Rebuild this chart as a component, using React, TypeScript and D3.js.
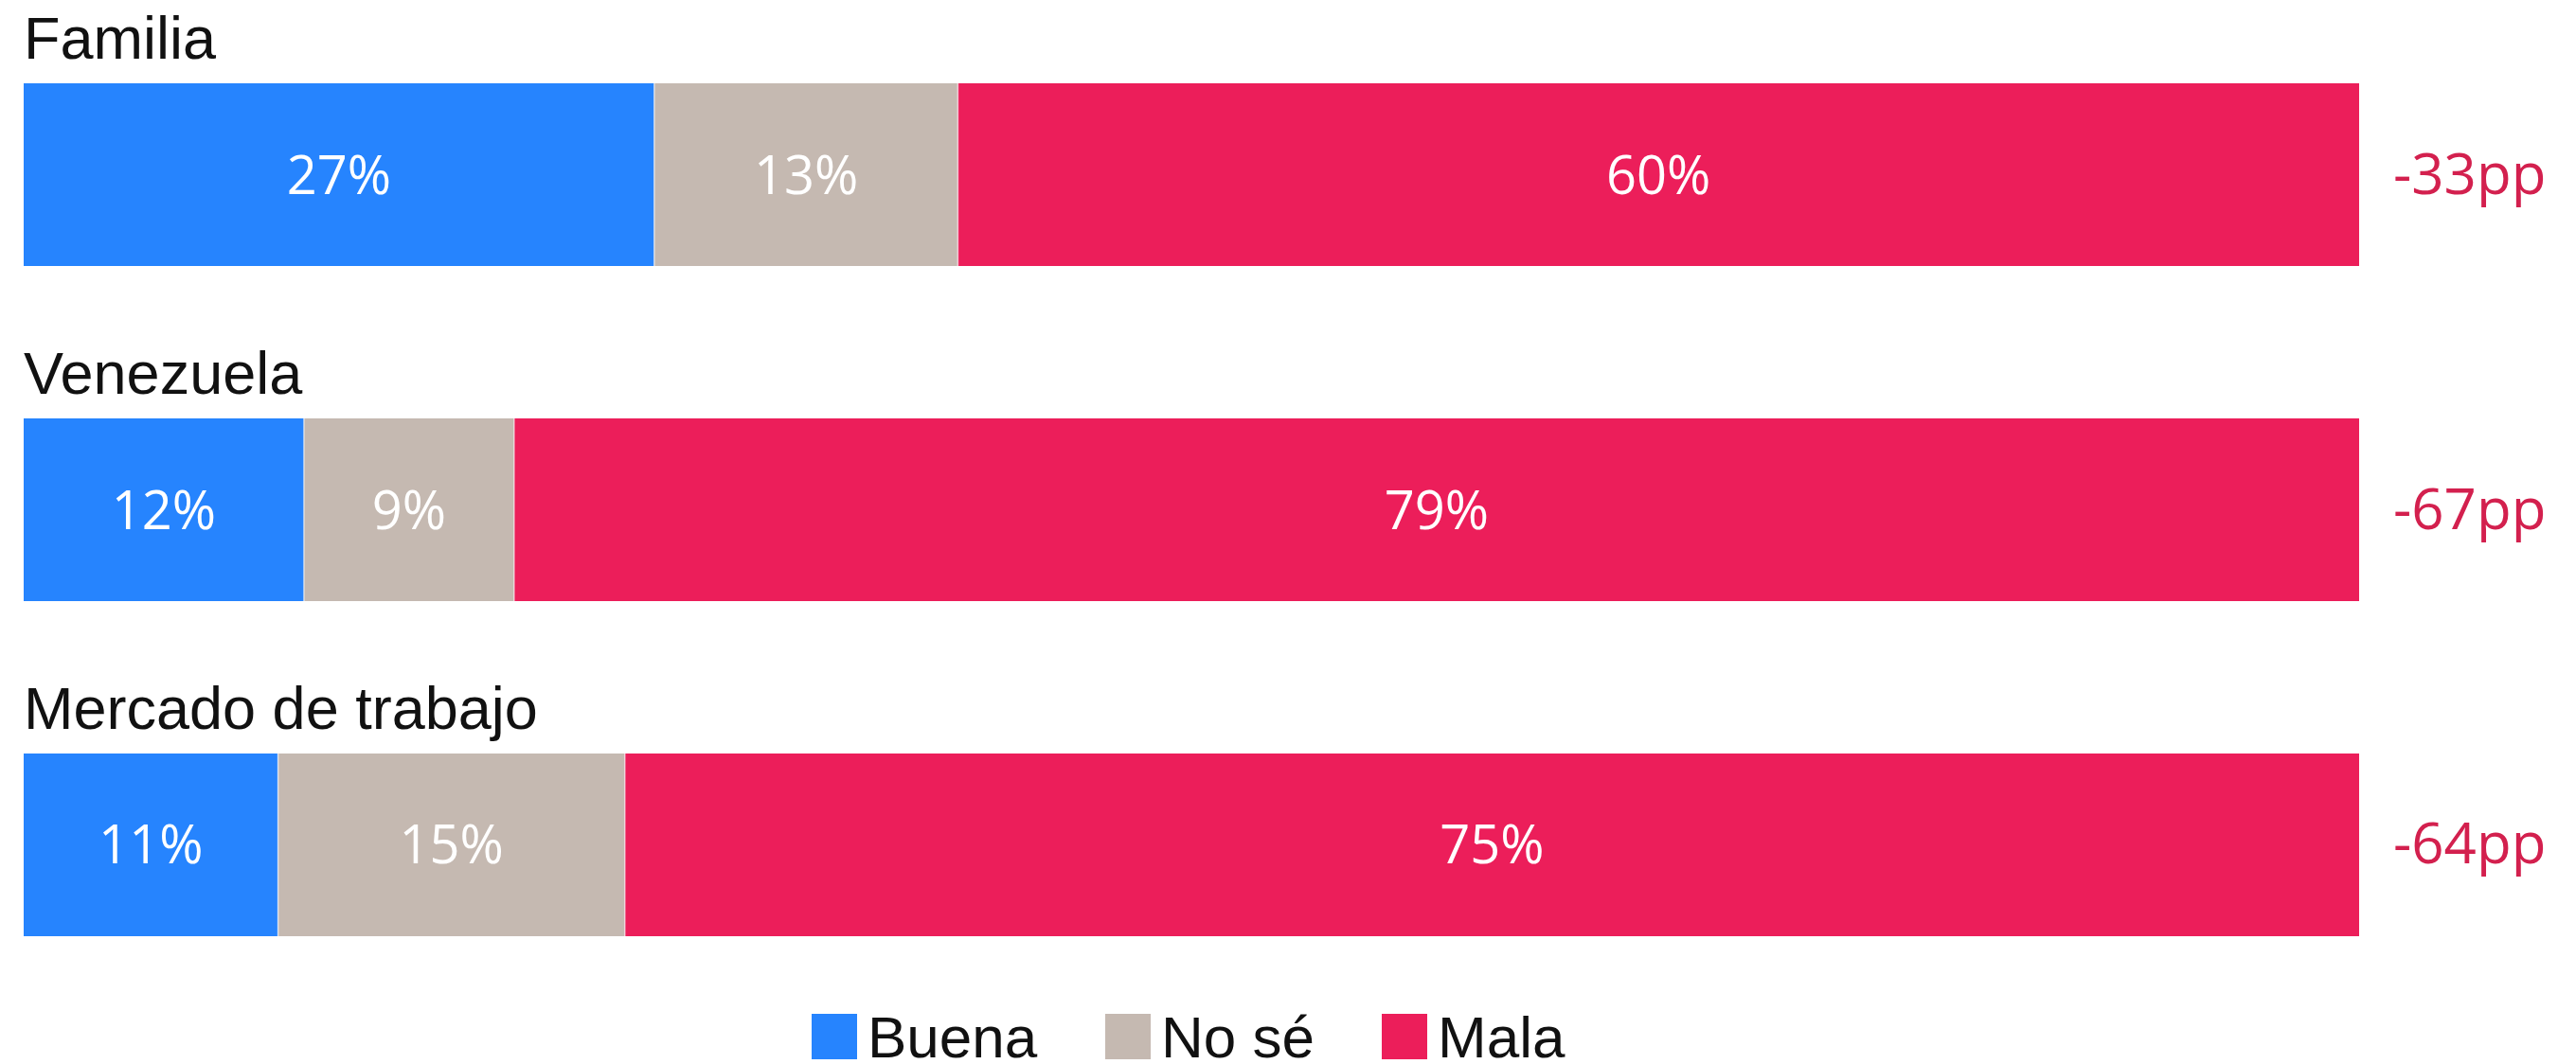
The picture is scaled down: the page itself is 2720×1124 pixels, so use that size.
import React from "react";
import * as d3 from "d3";

const categories = ["Familia", "Venezuela", "Mercado de trabajo"];
const seriesNames = ["Buena", "No sé", "Mala"];
const buena = [27, 12, 11];
const nose = [13, 9, 15];
const mala = [60, 79, 75];
const diffLabels = ["-33pp", "-67pp", "-64pp"];
const colors = ["#2684FE", "#C5B9B1", "#EC1E5A"];

const W = 2720;
const H = 1124;
const FONT = "'Liberation Sans', Arial, sans-serif";
const NUMFONT = "'Open Sans', 'Liberation Sans', sans-serif";

export default function App() {
  const x0 = 25;
  const x1 = 2491;
  const y = d3
    .scaleBand<string>()
    .domain(categories)
    .range([88, 989])
    .paddingInner(0.4548)
    .paddingOuter(0);
  const bw = y.bandwidth();

  const rows = categories.map((c, i) => {
    const vals = [buena[i], nose[i], mala[i]];
    const total = d3.sum(vals);
    const x = d3.scaleLinear().domain([0, total]).range([x0, x1]);
    let acc = 0;
    const segs = vals.map((v, k) => {
      const s = { start: acc, end: acc + v, v, k };
      acc += v;
      return s;
    });
    return { c, i, x, segs };
  });

  const legendX = [857, 1167, 1459];

  return (
    <svg
      width={W}
      height={H}
      style={{ position: "absolute", left: 0, top: 0, display: "block", background: "#fff" }}
    >
      {rows.map((r) => {
        const top = y(r.c)!;
        return (
          <g key={r.c}>
            <text x={25} y={top - 26} fontFamily={FONT} fontSize={63} fill="#111">
              {r.c}
            </text>
            {r.segs.map((s) => (
              <g key={s.k}>
                <rect
                  x={r.x(s.start)}
                  y={top}
                  width={r.x(s.end) - r.x(s.start)}
                  height={bw}
                  fill={colors[s.k]}
                />
                {s.k > 0 && (
                  <line
                    x1={r.x(s.start)}
                    x2={r.x(s.start)}
                    y1={top}
                    y2={top + bw}
                    stroke="#fff"
                    strokeOpacity={0.6}
                    strokeWidth={1.5}
                  />
                )}
                <text
                  x={(r.x(s.start) + r.x(s.end)) / 2}
                  y={top + bw / 2 + 20}
                  textAnchor="middle"
                  fontFamily={NUMFONT}
                  fontSize={56}
                  fill="#fff"
                >
                  {s.v}%
                </text>
              </g>
            ))}
            <text
              x={2527}
              y={top + bw / 2 + 20}
              fontFamily={NUMFONT}
              fontSize={60}
              fill="#D3204E"
            >
              {diffLabels[r.i]}
            </text>
          </g>
        );
      })}
      {seriesNames.map((n, k) => (
        <g key={n}>
          <rect x={legendX[k]} y={1071} width={48} height={48} fill={colors[k]} />
          <text x={legendX[k] + 59} y={1117} fontFamily={FONT} fontSize={62} fill="#111">
            {n}
          </text>
        </g>
      ))}
    </svg>
  );
}
